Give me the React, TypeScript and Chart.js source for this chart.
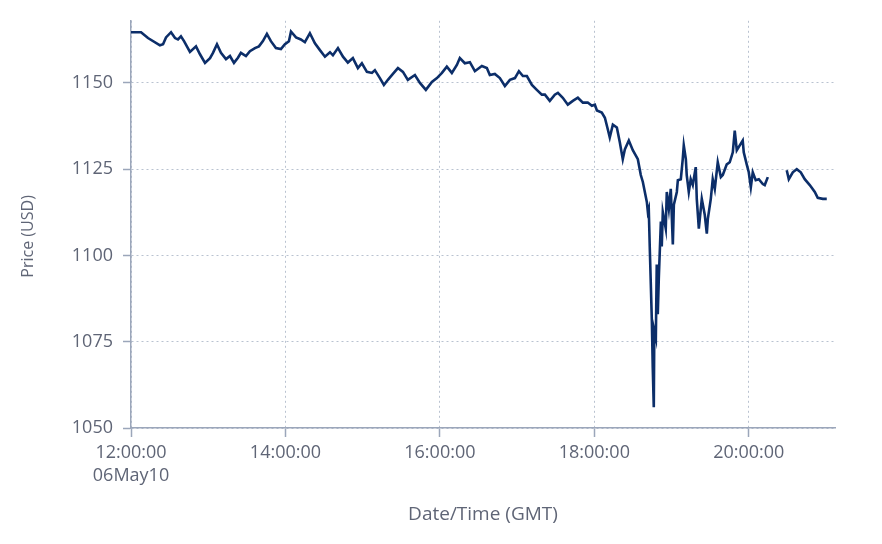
import React, { useEffect, useRef } from "react";
import { Chart, registerables } from "chart.js";

Chart.register(...registerables);

// Minutes after 12:00:00 GMT, 06 May 2010
const minutes = [
  0, 7.8, 13.2, 22.5, 24.9, 27.2, 31.1, 34.2, 36.5, 38.8, 41.2, 45.8, 50.5, 53.6, 57.5, 61.4, 63.7, 66.8, 69.9, 73.8,
  76.9, 80.0, 83.1, 85.4, 89.3, 92.4, 96.3, 99.4, 102.5, 105.6, 108.7, 112.6, 116.5, 119.6, 122.7, 124.3, 128.2, 132.0, 135.1, 139.0,
  142.9, 146.8, 150.7, 154.6, 156.9, 160.8, 164.7, 168.5, 172.4, 176.3, 179.4, 183.3, 187.2, 189.5, 193.4, 196.5, 199.6, 203.5, 207.4, 211.3,
  215.1, 220.6, 224.5, 229.1, 233.8, 237.7, 241.6, 245.4, 249.3, 253.2, 255.5, 259.4, 263.3, 267.2, 272.6, 276.5, 278.8, 282.7, 286.6, 290.5,
  294.4, 298.3, 301.4, 304.5, 307.6, 311.5, 315.3, 319.2, 321.6, 325.4, 329.3, 331.7, 335.5, 339.4, 343.3, 347.2, 351.1, 354.9, 358.1, 360.4,
  362.0, 365.8, 368.2, 370.5, 372.0, 374.4, 377.5, 379.8, 382.1, 383.7, 386.8, 389.9, 393.8, 396.1, 397.7, 400.8, 401.6, 402.3, 403.1, 404.7,
  405.4, 406.2, 406.6, 407.8, 408.5, 409.3, 410.1, 411.7, 412.4, 413.2, 415.5, 416.3, 417.9, 419.4, 421.0, 421.8, 424.1, 424.9, 427.2, 428.7,
  429.5, 431.1, 431.8, 433.4, 434.9, 436.5, 438.8, 439.6, 441.2, 443.5, 445.8, 447.4, 448.2, 450.5, 452.0, 453.6, 455.9, 458.3, 459.8, 462.9,
  465.2, 467.6, 469.1, 470.7, 473.0, 475.3, 476.1, 478.4, 480.0, 481.6, 483.1, 485.4, 487.8, 490.9, 492.4, 494.8, 502.0, 509.5, 511.1, 514.2,
  517.3, 520.4, 523.5, 527.4, 531.3, 533.6, 537.5, 540.6,
];

// Price (USD); null marks the gap in the data
const prices = [
  1164.7, 1164.7, 1163.0, 1160.9, 1161.2, 1163.2, 1164.7, 1163.0, 1162.6, 1163.5, 1162.1, 1159.0, 1160.6, 1158.3, 1155.8, 1157.2, 1158.7, 1161.2, 1158.7, 1156.9,
  1157.8, 1155.8, 1157.3, 1158.7, 1157.8, 1159.2, 1160.1, 1160.6, 1162.1, 1164.2, 1162.1, 1160.1, 1159.8, 1161.2, 1162.1, 1164.9, 1163.2, 1162.6, 1161.8, 1164.4,
  1161.5, 1159.5, 1157.6, 1158.9, 1158.0, 1160.1, 1157.6, 1155.9, 1157.2, 1154.3, 1155.7, 1153.2, 1152.9, 1153.7, 1151.4, 1149.4, 1150.9, 1152.6, 1154.3, 1153.2,
  1150.9, 1152.3, 1150.0, 1148.0, 1150.3, 1151.4, 1152.9, 1154.7, 1152.9, 1155.2, 1157.2, 1155.7, 1156.0, 1153.4, 1154.9, 1154.3, 1152.3, 1152.6, 1151.4, 1149.1,
  1150.9, 1151.4, 1153.4, 1152.0, 1152.0, 1149.4, 1148.0, 1146.6, 1146.6, 1144.8, 1146.6, 1147.1, 1145.7, 1143.7, 1144.8, 1145.7, 1144.3, 1144.3, 1143.4, 1143.7,
  1142.0, 1141.4, 1139.9, 1136.5, 1134.2, 1137.9, 1137.1, 1132.8, 1127.9, 1130.7, 1133.3, 1130.5, 1127.9, 1123.3, 1121.3, 1115.5, 1112.6, 1113.5, 1102.0, 1081.0,
  1067.5, 1056.0, 1078.2, 1076.1, 1097.4, 1083.0, 1093.4, 1109.8, 1102.6, 1112.6, 1107.8, 1118.4, 1113.5, 1119.3, 1103.2, 1114.7, 1118.4, 1121.8, 1122.1, 1127.9,
  1131.9, 1127.9, 1123.3, 1118.4, 1122.1, 1120.4, 1125.6, 1116.4, 1107.8, 1116.4, 1111.8, 1106.3, 1110.6, 1116.4, 1122.1, 1119.3, 1127.0, 1122.7, 1123.3, 1126.4,
  1127.0, 1129.9, 1136.2, 1130.5, 1131.9, 1133.3, 1129.9, 1126.4, 1124.1, 1119.8, 1124.1, 1121.8, 1122.1, 1120.7, 1120.4, 1122.7, null, 1124.7, 1122.1, 1124.1,
  1125.0, 1124.1, 1122.1, 1120.4, 1118.4, 1116.7, 1116.4, 1116.4,
];

const xTickValues = [0, 120, 240, 360, 480];
const xTickLabels: (string | string[])[] = [["12:00:00", "06May10"], "14:00:00", "16:00:00", "18:00:00", "20:00:00"];
const yTickValues = [1050, 1075, 1100, 1125, 1150];
const xTitle = "Date/Time (GMT)";
const yTitle = "Price (USD)";

const LINE = "#0c2e69";
const AXIS = "#9ba6ba";
const GRID = "#b9c2d0";
const TEXT = "#5f6576";
const FONT = "'Open Sans', 'Noto Sans', sans-serif";

const yTitlePlugin = {
  id: "yTitleText",
  afterDraw(chart: any) {
    const { ctx, chartArea } = chart;
    ctx.save();
    ctx.translate(chartArea.left - 103, (chartArea.top + chartArea.bottom) / 2 + 12);
    ctx.rotate(-Math.PI / 2);
    ctx.font = `16px ${FONT}`;
    ctx.fillStyle = TEXT;
    ctx.textAlign = "center";
    ctx.textBaseline = "middle";
    ctx.fillText(yTitle, 0, 0);
    ctx.restore();
  },
};

export default function App() {
  const ref = useRef<HTMLCanvasElement | null>(null);

  useEffect(() => {
    if (!ref.current) return;
    const data = minutes.map((m, i) => ({ x: m, y: prices[i] }));
    const chart = new Chart(ref.current, {
      type: "line",
      data: {
        datasets: [
          {
            data,
            borderColor: LINE,
            borderWidth: 2.6,
            pointRadius: 0,
            tension: 0,
            spanGaps: false,
            fill: false,
          },
        ],
      },
      options: {
        animation: false,
        responsive: true,
        maintainAspectRatio: false,
        layout: { padding: { top: 18, right: 47, left: 0, bottom: 0 } },
        plugins: { legend: { display: false }, tooltip: { enabled: false } },
        scales: {
          x: {
            type: "linear",
            min: 0,
            max: 547,
            afterBuildTicks: (s: any) => {
              s.ticks = xTickValues.map((v) => ({ value: v }));
            },
            afterFit: (s: any) => {
              s.height = 116;
            },
            ticks: {
              autoSkip: false,
              maxRotation: 0,
              padding: 5,
              color: TEXT,
              font: { family: FONT, size: 18, lineHeight: 1.25 },
              callback: (v: any) => xTickLabels[xTickValues.indexOf(Number(v))],
            },
            grid: { color: GRID, lineWidth: 1, tickLength: 9, tickColor: AXIS, tickWidth: 1.5 },
            border: { color: AXIS, width: 1.5, dash: [2, 3] },
            title: {
              display: true,
              text: xTitle,
              color: TEXT,
              font: { family: FONT, size: 19 },
              padding: { top: 0, bottom: 18 },
            },
          },
          y: {
            type: "linear",
            min: 1050,
            max: 1168,
            afterBuildTicks: (s: any) => {
              s.ticks = yTickValues.map((v) => ({ value: v }));
            },
            afterFit: (s: any) => {
              s.width = 131;
            },
            ticks: {
              padding: 10,
              color: TEXT,
              font: { family: FONT, size: 18 },
              callback: (v: any) => String(v),
            },
            grid: { color: GRID, lineWidth: 1, tickLength: 8, tickColor: AXIS, tickWidth: 1.5 },
            border: { color: AXIS, width: 1.5, dash: [2, 3] },
          },
        },
      },
      plugins: [yTitlePlugin],
    });
    return () => chart.destroy();
  }, []);

  return (
    <div style={{ position: "fixed", left: 0, top: 0, width: 882, height: 544, background: "#fff" }}>
      <canvas ref={ref} />
    </div>
  );
}
